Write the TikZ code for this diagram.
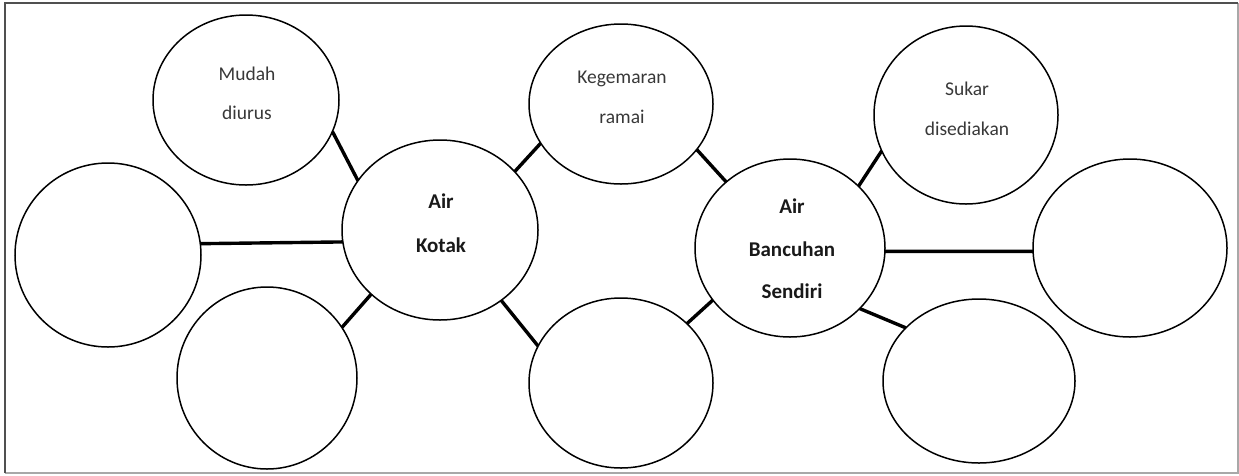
\documentclass[tikz,border=0pt]{standalone}
\usepackage{fontspec}
\setmainfont{Carlito}
\usetikzlibrary{shapes.geometric}
\definecolor{txtgray}{HTML}{383838}
\definecolor{framedark}{HTML}{505050}
\definecolor{framelight}{HTML}{A8A8A8}
\tikzset{
  bubble/.style={ellipse, draw=black, line width=1.5pt, inner sep=0pt, outer sep=0pt},
  link/.style={draw=black, line width=3.4pt},
  lbl/.style={anchor=base, inner sep=0pt, font=\fontsize{19.5}{20}\selectfont, text=txtgray},
  blbl/.style={anchor=base, inner sep=0pt, font=\fontsize{21}{22}\selectfont\bfseries, text=black!90},
}
\begin{document}
\begin{tikzpicture}[x=1pt,y=-1pt]
\useasboundingbox (0,0) rectangle (1239,475);
% frame
\coordinate (f1) at (5,3);
\coordinate (f2) at (1238,3);
\coordinate (f3) at (1238,473);
\coordinate (f4) at (5,473);
\draw[framelight, line width=1.5pt] (f2) -- (f3) -- (f4);
\draw[framedark, line width=2.6pt] (f4) -- (f1) -- (f2);
% bubbles
\node[bubble, minimum width=186pt, minimum height=170pt] (A) at (246,100) {};
\node[bubble, minimum width=186pt, minimum height=184pt] (B) at (108,255) {};
\node[bubble, minimum width=180pt, minimum height=182pt] (C) at (267,378) {};
\node[bubble, minimum width=196pt, minimum height=180pt] (K) at (440,230) {};
\node[bubble, minimum width=184pt, minimum height=160pt] (G) at (621,104) {};
\node[bubble, minimum width=184pt, minimum height=170pt] (M) at (621,383) {};
\node[bubble, minimum width=190pt, minimum height=178pt] (S) at (790,248) {};
\node[bubble, minimum width=184pt, minimum height=178pt] (D) at (966,115) {};
\node[bubble, minimum width=194pt, minimum height=178pt] (R) at (1130,248) {};
\node[bubble, minimum width=192pt, minimum height=164pt] (E) at (979,381) {};
% labels
\node[lbl] (a1) at (247,80) {Mudah};
\node[lbl] (a2) at (247,119) {diurus};
\node[lbl] (g1) at (622,83) {Kegemaran};
\node[lbl] (g2) at (622,123) {ramai};
\node[lbl] (d1) at (967,95) {Sukar};
\node[lbl] (d2) at (967,135) {disediakan};
\node[blbl] (k1) at (441,208) {Air};
\node[blbl] (k2) at (441,252) {Kotak};
\node[blbl] (s1) at (792,213) {Air};
\node[blbl] (s2) at (792,256) {Bancuhan};
\node[blbl] (s3) at (792,298) {Sendiri};
% connectors
\draw[link] (A.-20.4) -- (K.149.3);
\draw[link] (B.7.4) -- (K.187.6);
\draw[link] (C.34.2) -- (K.223.7);
\draw[link] (K.38.6) -- (G.206.9);
\draw[link] (G.-31.7) -- (S.134.1);
\draw[link] (K.-49.8) -- (M.156.3);
\draw[link] (M.42.1) -- (S.214);
\draw[link] (S.42.4) -- (D.203.1);
\draw[link] (S.-2.4) -- (R.182.4);
\draw[link] (S.-41.1) -- (E.144);
\end{tikzpicture}
\end{document}
